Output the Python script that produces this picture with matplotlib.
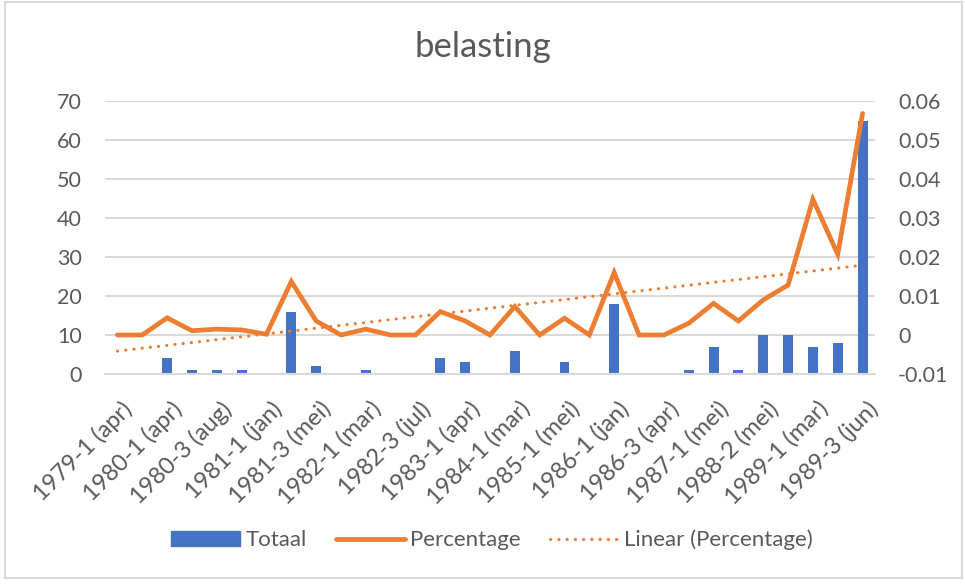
import numpy as np
import matplotlib
matplotlib.use("Agg")
import matplotlib.pyplot as plt
import matplotlib.transforms as mtransforms
from matplotlib.patches import Rectangle
from matplotlib.lines import Line2D

categories = [
    "1979-1 (apr)", "1979-2", "1980-1 (apr)", "1980-2", "1980-3 (aug)", "1980-4",
    "1981-1 (jan)", "1981-2", "1981-3 (mei)", "1981-4", "1982-1 (mar)", "1982-2",
    "1982-3 (jul)", "1982-4", "1983-1 (apr)", "1983-2", "1984-1 (mar)", "1984-2",
    "1985-1 (mei)", "1985-2", "1986-1 (jan)", "1986-2", "1986-3 (apr)", "1986-4",
    "1987-1 (mei)", "1987-2", "1988-2 (mei)", "1988-3", "1989-1 (mar)", "1989-2",
    "1989-3 (jun)",
]
shown_labels = [
    "1979-1 (apr)", "1980-1 (apr)", "1980-3 (aug)", "1981-1 (jan)", "1981-3 (mei)",
    "1982-1 (mar)", "1982-3 (jul)", "1983-1 (apr)", "1984-1 (mar)", "1985-1 (mei)",
    "1986-1 (jan)", "1986-3 (apr)", "1987-1 (mei)", "1988-2 (mei)", "1989-1 (mar)",
    "1989-3 (jun)",
]
totaal = [0, 0, 4, 1, 1, 1, 0, 16, 2, 0, 1, 0, 0, 4, 3, 0,
          6, 0, 3, 0, 18, 0, 0, 1, 7, 1, 10, 10, 7, 8, 65]
percentage = [0.0, 0.0, 0.0044, 0.0011, 0.0015, 0.0013, 0.0002, 0.0137, 0.0036, 0.0,
              0.0015, 0.0, 0.0, 0.0060, 0.0036, 0.0, 0.0073, 0.0, 0.0043, 0.0,
              0.0160, 0.0, 0.0, 0.0030, 0.0081, 0.0036, 0.0090, 0.0128, 0.0348,
              0.0207, 0.0568]
left_ticks = [0, 10, 20, 30, 40, 50, 60, 70]
right_ticks = [-0.01, 0, 0.01, 0.02, 0.03, 0.04, 0.05, 0.06]
right_tick_labels = ["-0.01", "0", "0.01", "0.02", "0.03", "0.04", "0.05", "0.06"]

BLUE = "#4472C4"
ORANGE = "#ED7D31"
TEXT = "#595959"
GRID = "#D9D9D9"
FONT = "Lato"

plt.rcParams['font.family'] = [FONT, 'DejaVu Sans']

W, H = 965, 585
fig = plt.figure(figsize=(W / 100, H / 100), dpi=100)
ax = fig.add_axes([105 / W, 1 - 374 / H, 770 / W, 273 / H])
ax2 = ax.twinx()

x = np.arange(len(categories))
ax.bar(x, totaal, width=0.4, color=BLUE, zorder=2)
ax.set_ylim(0, 70)
ax.set_xlim(-0.5, len(categories) - 0.5)
ax.set_yticks(left_ticks)
ax.yaxis.grid(True, color=GRID, linewidth=1.5, zorder=0)
ax.set_axisbelow(True)
for s in ["top", "left", "right"]:
    ax.spines[s].set_visible(False)
ax.spines["bottom"].set_color(GRID)
ax.spines["bottom"].set_linewidth(1.5)
ax.tick_params(axis="y", length=0, labelsize=15.5, labelcolor=TEXT, pad=16.5)
ax.set_xticks(x[::2])
ax.set_xticklabels(shown_labels, rotation=45, ha="right", rotation_mode="anchor",
                   fontsize=17, color=TEXT)
ax.tick_params(axis="x", length=0, pad=17)
offset = mtransforms.ScaledTranslation(4 / 100, 0, fig.dpi_scale_trans)
for lbl in ax.get_xticklabels():
    lbl.set_transform(lbl.get_transform() + offset)

ax2.plot(x, percentage, color=ORANGE, linewidth=3.4, solid_joinstyle="miter",
         solid_capstyle="round", zorder=3)
coef = np.polyfit(x, percentage, 1)
trend = np.polyval(coef, x)
ax2.plot(x, trend, color=ORANGE, linewidth=2.2, linestyle=(0, (0.1, 2.6)),
         dash_capstyle="round", zorder=3)
ax2.set_ylim(-0.01, 0.06)
ax2.set_yticks(right_ticks)
ax2.set_yticklabels(right_tick_labels)
ax2.tick_params(axis="y", length=0, labelsize=15.5, labelcolor=TEXT, pad=16.5)
for s in ["top", "left", "right", "bottom"]:
    ax2.spines[s].set_visible(False)

fig.text(0.5, 1 - 47 / H, "belasting", ha="center", va="center",
         fontsize=25, color=TEXT)

handles = [
    Rectangle((0, 0), 1, 1, color=BLUE),
    Line2D([], [], color=ORANGE, linewidth=3.4, solid_capstyle="round"),
    Line2D([], [], color=ORANGE, linewidth=2.2, linestyle=(0, (0.1, 2.6)),
           dash_capstyle="round"),
]
labels = ["Totaal", "Percentage", "Linear (Percentage)"]
fig.legend(handles, labels, loc="center", bbox_to_anchor=(492 / W, 1 - 540 / H),
           ncol=3, frameon=False, fontsize=16, labelcolor=TEXT,
           handlelength=3.1, handleheight=0.7, handletextpad=0.25,
           columnspacing=1.3)

fig.patches.append(Rectangle((5 / W, 1 - 578 / H), 957 / W, 576 / H,
                             transform=fig.transFigure, fill=False,
                             edgecolor=GRID, linewidth=1.5))

fig.savefig("out.png", dpi=100, facecolor="white")
